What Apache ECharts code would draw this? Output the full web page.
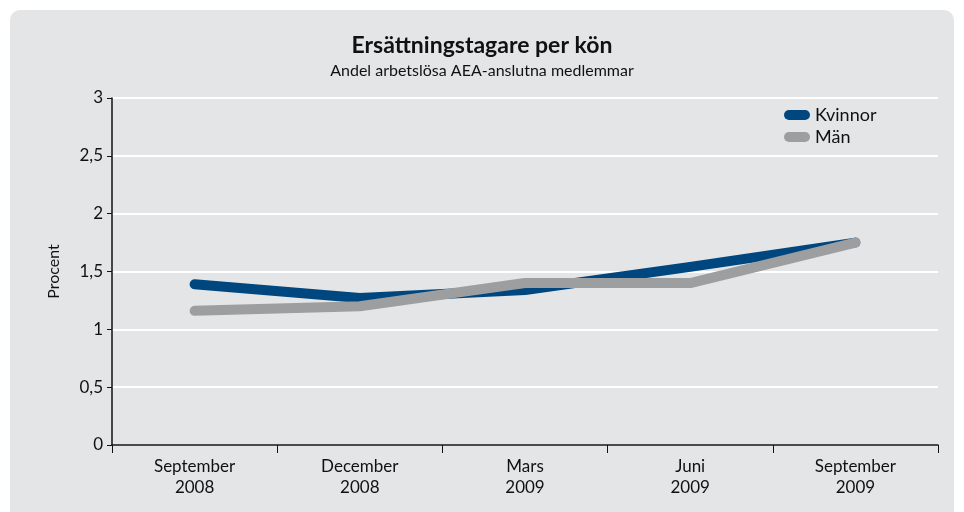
<!DOCTYPE html>
<html>
<head>
<meta charset="utf-8">
<script src="https://cdn.jsdelivr.net/npm/echarts@6/dist/echarts.min.js"></script>
<style>
  html, body { margin: 0; padding: 0; background: #ffffff; }
  #chart { width: 964px; height: 512px; }
</style>
</head>
<body>
<div id="chart"></div>
<script>
// data
const categories = ['September\n2008', 'December\n2008', 'Mars\n2009', 'Juni\n2009', 'September\n2009'];
const kvinnor = [1.39, 1.27, 1.34, 1.54, 1.75];
const man = [1.16, 1.20, 1.40, 1.40, 1.75];
const yTicks = [0, 0.5, 1, 1.5, 2, 2.5, 3];

const font = 'Lato, "Open Sans", sans-serif';
const pill = 'path://M5,0 H21 A5,5 0 0 1 21,10 H5 A5,5 0 0 1 5,0 Z';

const chart = echarts.init(document.getElementById('chart'));
chart.setOption({
  backgroundColor: '#ffffff',
  animation: false,
  graphic: [{
    type: 'rect',
    z: -10,
    silent: true,
    shape: { x: 10, y: 10, width: 944, height: 520, r: 10 },
    style: { fill: '#e4e5e7' }
  }],
  title: {
    text: 'Ersättningstagare per kön',
    subtext: 'Andel arbetslösa AEA-anslutna medlemmar',
    left: 'center',
    top: 29,
    itemGap: 6,
    textStyle: { fontFamily: font, fontSize: 23, fontWeight: 'bold', color: '#111' },
    subtextStyle: { fontFamily: font, fontSize: 16, color: '#111' }
  },
  legend: {
    orient: 'vertical',
    left: 779,
    top: 101,
    itemWidth: 26,
    itemHeight: 10,
    itemGap: 4,
    textStyle: { fontFamily: font, fontSize: 18, color: '#111' },
    data: [
      { name: 'Kvinnor', icon: pill },
      { name: 'Män', icon: pill }
    ]
  },
  grid: { left: 112, right: 26, top: 98, bottom: 67 },
  xAxis: {
    type: 'category',
    data: categories,
    boundaryGap: true,
    axisLine: { lineStyle: { color: '#111', width: 1.5 } },
    axisTick: { show: true, length: 8, lineStyle: { color: '#111' } },
    axisLabel: { fontFamily: font, fontSize: 17, color: '#111', margin: 11, lineHeight: 21 }
  },
  yAxis: {
    type: 'value',
    min: yTicks[0],
    max: yTicks[yTicks.length - 1],
    interval: 0.5,
    name: 'Procent',
    nameLocation: 'middle',
    nameGap: 50,
    nameTextStyle: { fontFamily: font, fontSize: 16, color: '#111' },
    axisLine: { show: true, lineStyle: { color: '#111', width: 1.5 } },
    axisTick: { show: true, length: 5, lineStyle: { color: '#111' } },
    axisLabel: {
      fontFamily: font, fontSize: 17, color: '#111', margin: 9,
      formatter: v => String(v).replace('.', ',')
    },
    splitLine: { lineStyle: { color: '#ffffff', width: 2 } }
  },
  series: [
    {
      name: 'Kvinnor',
      type: 'line',
      data: kvinnor,
      color: '#00467f',
      symbol: 'none',
      lineStyle: { width: 10, cap: 'round', join: 'round' }
    },
    {
      name: 'Män',
      type: 'line',
      data: man,
      color: '#9d9ea0',
      symbol: 'none',
      lineStyle: { width: 10, cap: 'round', join: 'round' }
    }
  ]
});
</script>
</body>
</html>
